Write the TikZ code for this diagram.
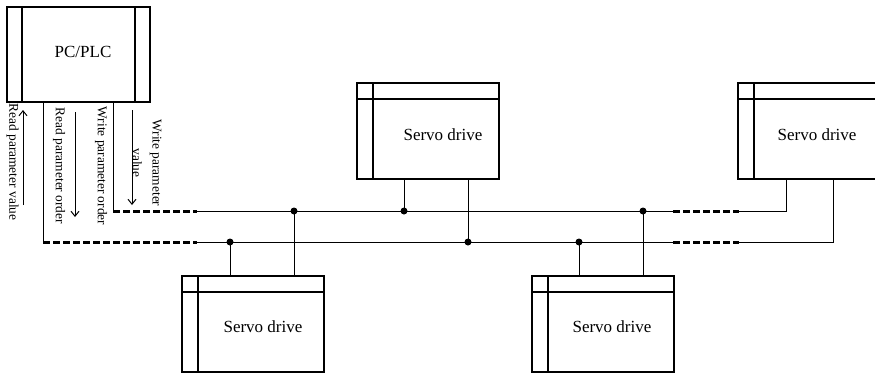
\documentclass[tikz,border=0pt]{standalone}
\usepackage{fontspec}
\setmainfont{Liberation Serif}
\usetikzlibrary{arrows.meta, calc}

\begin{document}
\begin{tikzpicture}[x=1pt, y=-1pt,
    drive/.style={rectangle, draw, line width=1.5pt, minimum width=142pt, minimum height=96pt, inner sep=0pt,
        path picture={\draw[line width=1.5pt] ([xshift=16pt]path picture bounding box.north west) -- ([xshift=16pt]path picture bounding box.south west);
            \draw[line width=1.5pt] ([yshift=-16pt]path picture bounding box.north west) -- ([yshift=-16pt]path picture bounding box.north east);}},
    ctrl/.style={rectangle, draw, line width=1.5pt, minimum width=143pt, minimum height=95pt, inner sep=0pt,
        path picture={\draw[line width=1.5pt] ([xshift=15pt]path picture bounding box.north west) -- ([xshift=15pt]path picture bounding box.south west);
            \draw[line width=1.5pt] ([xshift=-15pt]path picture bounding box.north east) -- ([xshift=-15pt]path picture bounding box.south east);}},
    txt/.style={font=\fontsize{17}{20}\selectfont, inner sep=0pt},
    note/.style={font=\fontsize{13.4}{20}\selectfont, rotate=-90, align=center, inner sep=0pt},
    wire/.style={line width=1pt},
    far/.style={line width=3pt, dash pattern=on 7pt off 3pt},
    dot/.style={circle, fill, inner sep=0pt, minimum size=7pt},
    arr/.style={-{Straight Barb[length=5pt,width=8pt]}, line width=1pt},
]
\useasboundingbox (0,0) rectangle (875,373);

\node[ctrl] (plc) at (78.5,54.5) {};
\node[txt] (plct) at (83,52) {PC/PLC};

\node[drive] (sd1) at (428,131) {};
\node[drive] (sd2) at (253,324) {};
\node[drive] (sd3) at (809,131) {};
\node[drive] (sd4) at (603,324) {};
\node[txt] (sd1t) at (443,135) {Servo drive};
\node[txt] (sd2t) at (263,327) {Servo drive};
\node[txt] (sd3t) at (817,135) {Servo drive};
\node[txt] (sd4t) at (612,327) {Servo drive};

\coordinate (t0) at (113,211);
\coordinate (t1) at (197,211);
\coordinate (t2) at (673,211);
\coordinate (t3) at (739,211);
\coordinate (t4) at (786,211);
\coordinate (b0) at (43,242);
\coordinate (b1) at (197,242);
\coordinate (b2) at (673,242);
\coordinate (b3) at (739,242);
\coordinate (b4) at (833,242);

\node[dot] (jt1) at (294,211) {};
\node[dot] (jt2) at (404,211) {};
\node[dot] (jt3) at (643,211) {};
\node[dot] (jb1) at (230,242) {};
\node[dot] (jb2) at (468,242) {};
\node[dot] (jb3) at (579,242) {};

\draw[wire] (plc.south -| t0) -- (t0);
\draw[wire] (plc.south -| b0) -- (b0);
\draw[far] (t0) -- (t1);
\draw[far] (b0) -- (b1);
\draw[wire] (t1) -- (t2);
\draw[wire] (b1) -- (b2);
\draw[far] (t2) -- (t3);
\draw[far] (b2) -- (b3);
\draw[wire] (t3) -- (t4) -- (t4 |- sd3.south);
\draw[wire] (b3) -- (b4) -- (b4 |- sd3.south);

\draw[wire] (sd1.south -| jt2) -- (jt2.center);
\draw[wire] (sd1.south -| jb2) -- (jb2.center);
\draw[wire] (sd2.north -| jt1) -- (jt1.center);
\draw[wire] (sd2.north -| jb1) -- (jb1.center);
\draw[wire] (sd4.north -| jt3) -- (jt3.center);
\draw[wire] (sd4.north -| jb3) -- (jb3.center);

\node[note] (rpv) at (12.5,162) {Read parameter value};
\node[note] (rpo) at (59,166) {Read parameter order};
\node[note] (wpo) at (101,166) {Write parameter order};
\node[note] (wpv) at (147,163) {Write parameter\\value};

\coordinate (a1s) at (23,205);
\coordinate (a1e) at (23,110);
\coordinate (a2s) at (75,112);
\coordinate (a2e) at (75,217);
\coordinate (a3s) at (132,110);
\coordinate (a3e) at (132,205);
\draw[arr] (a1s) -- (a1e);
\draw[arr] (a2s) -- (a2e);
\draw[arr] (a3s) -- (a3e);
\end{tikzpicture}
\end{document}
